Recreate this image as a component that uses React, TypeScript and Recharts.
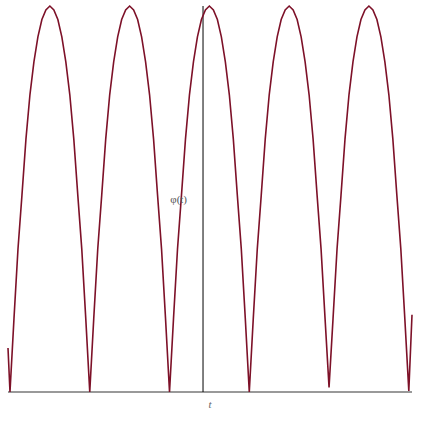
import React from 'react';
import { LineChart, Line, XAxis, YAxis, ReferenceLine } from 'recharts';

// time samples (t = 0 sits on the vertical axis)
const time = [
  -4.89,
  -4.84, -4.74, -4.64, -4.54, -4.44, -4.34, -4.24, -4.14, -4.04, -3.94,
  -3.84, -3.74, -3.64, -3.54, -3.44, -3.34, -3.24, -3.14, -3.04, -2.94,
  -2.84, -2.74, -2.64, -2.54, -2.44, -2.34, -2.24, -2.14, -2.04, -1.94,
  -1.84, -1.74, -1.64, -1.54, -1.44, -1.34, -1.24, -1.14, -1.04, -0.94,
  -0.84, -0.74, -0.64, -0.54, -0.44, -0.34, -0.24, -0.14, -0.04, 0.06,
  0.16, 0.26, 0.36, 0.46, 0.56, 0.66, 0.76, 0.86, 0.96, 1.06,
  1.16, 1.26, 1.36, 1.46, 1.56, 1.66, 1.76, 1.86, 1.96, 2.06,
  2.16, 2.26, 2.36, 2.46, 2.56, 2.66, 2.76, 2.86, 2.96, 3.06,
  3.16, 3.26, 3.36, 3.46, 3.56, 3.66, 3.76, 3.86, 3.96, 4.06,
  4.16, 4.26, 4.36, 4.46, 4.56, 4.66, 4.76, 4.86, 4.96, 5.06,
  5.16, 5.24,
];

// phi(t), 0 = axis, 1 = top of the arcs
const phi = [
  0.114,
  0, 0.19, 0.37, 0.51, 0.655, 0.77, 0.855, 0.92, 0.965, 0.99,
  1.0, 0.99, 0.965, 0.92, 0.855, 0.77, 0.655, 0.51, 0.37, 0.19,
  0, 0.19, 0.37, 0.51, 0.655, 0.77, 0.855, 0.92, 0.965, 0.99,
  1.0, 0.99, 0.965, 0.92, 0.855, 0.77, 0.655, 0.51, 0.37, 0.19,
  0, 0.19, 0.37, 0.51, 0.655, 0.77, 0.855, 0.92, 0.965, 0.99,
  1.0, 0.99, 0.965, 0.92, 0.855, 0.77, 0.655, 0.51, 0.37, 0.19,
  0, 0.19, 0.37, 0.51, 0.655, 0.77, 0.855, 0.92, 0.965, 0.99,
  1.0, 0.99, 0.965, 0.92, 0.855, 0.77, 0.655, 0.51, 0.37, 0.19,
  0.012, 0.19, 0.37, 0.51, 0.655, 0.77, 0.855, 0.92, 0.965, 0.99,
  1.0, 0.99, 0.965, 0.92, 0.855, 0.77, 0.655, 0.51, 0.37, 0.19,
  0.003, 0.2,
];

const xLabel = 't';
const yLabel = 'φ(t)';

const data = time.map((t, i) => ({ t, phi: phi[i] }));

const App: React.FC = () => {
  return (
    <div style={{ position: 'absolute', left: 0, top: 0, background: '#fff' }}>
      <LineChart
        width={421}
        height={421}
        data={data}
        margin={{ top: 6, right: 9, bottom: 29, left: 8 }}
      >
        <XAxis dataKey="t" type="number" domain={[-4.89, 5.24]} hide />
        <YAxis type="number" domain={[0, 1]} hide />
        <ReferenceLine
          y={0}
          stroke="#999"
          strokeWidth={2}
          label={{
            value: xLabel,
            position: 'bottom',
            offset: 8,
            fill: '#666',
            fontSize: 11,
            fontStyle: 'italic',
            fontFamily: 'Liberation Serif',
          }}
        />
        <ReferenceLine
          x={0}
          stroke="#000"
          strokeWidth={1}
          label={{
            value: yLabel,
            position: 'left',
            offset: 16,
            fill: '#555',
            fontSize: 11,
            fontFamily: 'Liberation Serif',
          }}
        />
        <Line
          type="linear"
          dataKey="phi"
          stroke="#7d1128"
          strokeWidth={1.6}
          dot={false}
          isAnimationActive={false}
        />
      </LineChart>
    </div>
  );
};

export default App;
